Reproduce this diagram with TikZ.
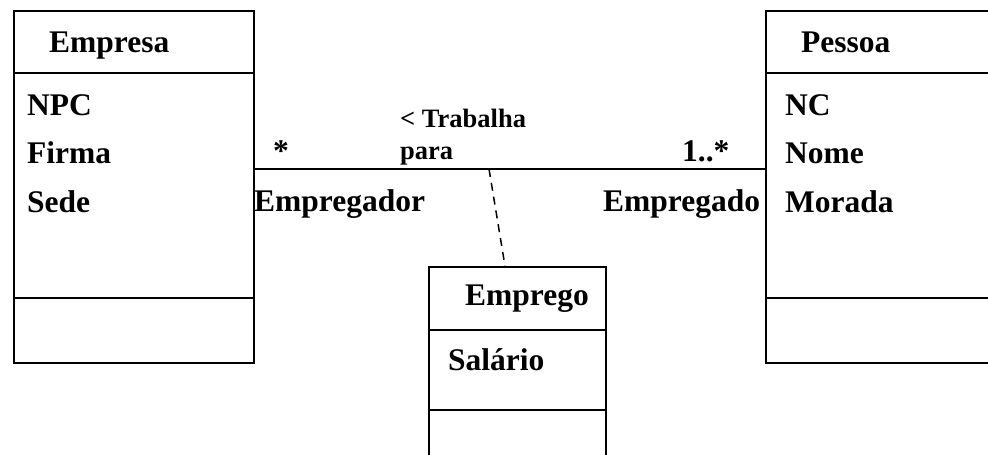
\documentclass[tikz,border=0pt]{standalone}
\usepackage{fontspec}
\setmainfont{Liberation Serif}
\begin{document}
\begin{tikzpicture}[x=1pt,y=-1pt,
  big/.style={font=\fontsize{31.5}{37}\selectfont\bfseries, inner sep=0pt, anchor=base west},
  small/.style={font=\fontsize{26.5}{32}\selectfont\bfseries, inner sep=0pt, anchor=base west},
  classbox/.style={draw, line width=2.3pt, inner sep=0pt, anchor=north west},
  sepline/.style={line width=2.3pt},
  link/.style={line width=2.3pt},
  note/.style={line width=1.5pt, dash pattern=on 8pt off 6pt}]
\useasboundingbox (0,0) rectangle (988,455);
\clip (0,0) rectangle (988,455);
% class boxes
\node[classbox, minimum width=240pt, minimum height=352pt] (empresa) at (13,10) {};
\node[classbox, minimum width=240pt, minimum height=352pt] (pessoa) at (765,10) {};
\node[classbox, minimum width=177pt, minimum height=200pt] (emprego) at (428,266) {};
% compartments
\draw[sepline] (empresa.west |- 0,73) -- (empresa.east |- 0,73);
\draw[sepline] (empresa.west |- 0,298) -- (empresa.east |- 0,298);
\draw[sepline] (pessoa.west |- 0,73) -- (pessoa.east |- 0,73);
\draw[sepline] (pessoa.west |- 0,298) -- (pessoa.east |- 0,298);
\draw[sepline] (emprego.west |- 0,330) -- (emprego.east |- 0,330);
\draw[sepline] (emprego.west |- 0,410) -- (emprego.east |- 0,410);
% association
\coordinate (assocL) at (empresa.east |- 0,169);
\coordinate (assocR) at (pessoa.west |- 0,169);
\draw[link] (assocL) -- (assocR);
\coordinate (assocMid) at (489,169);
\coordinate (noteEnd) at (emprego.north -| 505,0);
\draw[note] (assocMid) -- (noteEnd);
% texts
\node[big] (tEmpresa) at (49,52) {Empresa};
\node[big] (tNPC) at (27,115) {NPC};
\node[big] (tFirma) at (27,163) {Firma};
\node[big] (tSede) at (27,212) {Sede};
\node[big] (tPessoa) at (801,52) {Pessoa};
\node[big] (tNC) at (785,115) {NC};
\node[big] (tNome) at (785,163) {Nome};
\node[big] (tMorada) at (785,212) {Morada};
\node[big] (tEmprego) at (465,305) {Emprego};
\node[big] (tSalario) at (448,370) {Salário};
\node[big] (tStarL) at (273,161) {*};
\node[big] (tMult) at (682,161) {1..*};
\node[big] (tEmpregador) at (254,211) {Empregador};
\node[big] (tEmpregado) at (603,211) {Empregado};
\node[small] (tTrab) at (400,127) {< Trabalha};
\node[small] (tPara) at (400,159) {para};
\end{tikzpicture}
\end{document}
